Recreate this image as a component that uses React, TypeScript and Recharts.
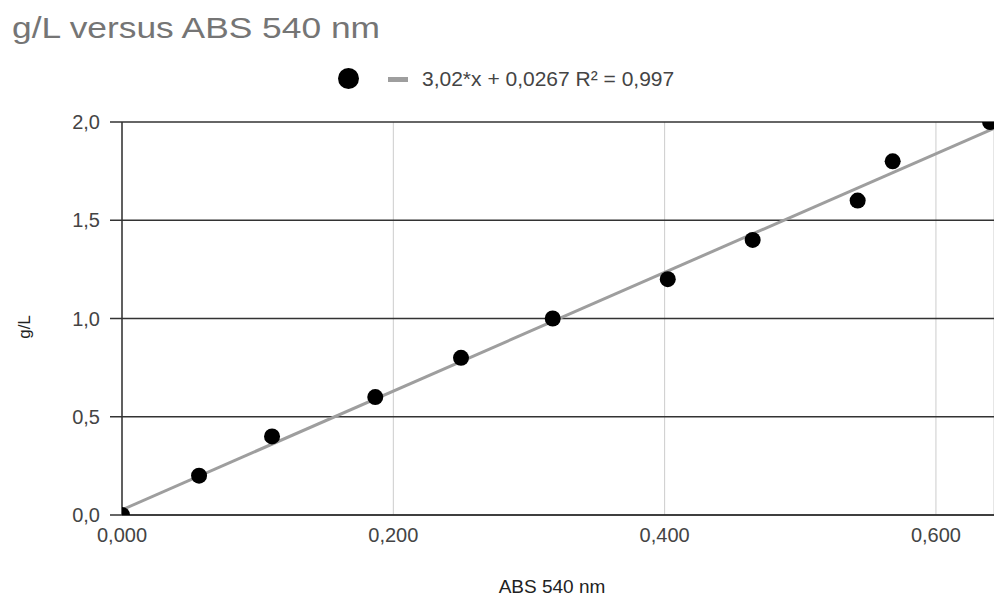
import {
    CartesianGrid,
    ComposedChart,
    ReferenceLine,
    Scatter,
    XAxis,
    YAxis,
} from "recharts";

// ABS 540 nm readings and matching concentrations (g/L)
const absValues = [0, 0.0568, 0.1106, 0.1867, 0.2499, 0.3175, 0.4023, 0.4649, 0.5423, 0.5681, 0.6399];
const concValues = [0, 0.2, 0.4, 0.6, 0.8, 1.0, 1.2, 1.4, 1.6, 1.8, 2.0];

const xTicks = [0, 0.2, 0.4, 0.6];
const yTicks = [0, 0.5, 1, 1.5, 2];
const xMax = 0.6428;

// linear trendline from the legend
const trendSlope = 3.02;
const trendIntercept = 0.0267;
const legendText = "3,02*x + 0,0267 R² = 0,997";

const points = absValues.map((x, i) => ({ x, y: concValues[i] }));
const trendSegment = [
    { x: 0, y: trendIntercept },
    { x: xMax, y: trendSlope * xMax + trendIntercept },
];

const font = "Arial, 'Liberation Sans', sans-serif";

const Dot = (props: any) => <circle cx={props.cx} cy={props.cy} r={8} fill="#000" />;

const YTitle = () => (
    <text
        x={24}
        y={327}
        transform="rotate(-90, 24, 327)"
        textAnchor="middle"
        dominantBaseline="central"
        fontSize={17}
        fill="#222222"
    >
        g/L
    </text>
);

export default function App() {
    return (
        <div style={{ position: "absolute", left: 0, top: 0, width: 994, height: 597, fontFamily: font, background: "#fff" }}>
            <ComposedChart
                width={994}
                height={597}
                data={points}
                margin={{ top: 122, right: 0, bottom: 0, left: 0 }}
                style={{ fontFamily: font }}
            >
                <CartesianGrid horizontal={false} stroke="#cccccc" strokeWidth={1} />
                <CartesianGrid vertical={false} stroke="#333333" strokeWidth={1.5} />
                <XAxis
                    type="number"
                    dataKey="x"
                    domain={[0, xMax]}
                    ticks={xTicks}
                    allowDataOverflow
                    height={82}
                    tickLine={false}
                    tickSize={0}
                    tickMargin={13}
                    axisLine={{ stroke: "#333333", strokeWidth: 1.5 }}
                    tick={{ fill: "#444444", fontSize: 20 }}
                    tickFormatter={(v: number) => v.toFixed(3).replace(".", ",")}
                    label={{ value: "ABS 540 nm", position: "insideBottom", offset: 4, fill: "#222222", fontSize: 19, dx: -6 }}
                />
                <YAxis
                    type="number"
                    dataKey="y"
                    domain={[0, 2]}
                    ticks={yTicks}
                    allowDataOverflow
                    width={122}
                    tickSize={12}
                    tickMargin={10}
                    tickLine={{ stroke: "#333333", strokeWidth: 1.5 }}
                    axisLine={{ stroke: "#333333", strokeWidth: 1.5 }}
                    tick={{ fill: "#444444", fontSize: 20 }}
                    tickFormatter={(v: number) => v.toFixed(1).replace(".", ",")}
                    label={{ content: YTitle }}
                />
                <ReferenceLine segment={trendSegment} stroke="#9e9e9e" strokeWidth={3} />
                <Scatter data={points} dataKey="y" shape={Dot} isAnimationActive={false} />
            </ComposedChart>

            <svg width={994} height={60} style={{ position: "absolute", left: 0, top: 0, pointerEvents: "none" }}>
                <text x={12} y={38} fontSize={29} fill="#757575" fontFamily={font} textLength={368} lengthAdjust="spacingAndGlyphs">
                    g/L versus ABS 540 nm
                </text>
            </svg>

            <div style={{ position: "absolute", left: 338, top: 68, width: 21, height: 21, borderRadius: "50%", background: "#000" }} />
            <div style={{ position: "absolute", left: 388, top: 77, width: 20, height: 5, background: "#9e9e9e" }} />
            <div style={{ position: "absolute", left: 422, top: 67, fontSize: 21, lineHeight: "24px", color: "#444444", whiteSpace: "nowrap" }}>
                {legendText}
            </div>
        </div>
    );
}
